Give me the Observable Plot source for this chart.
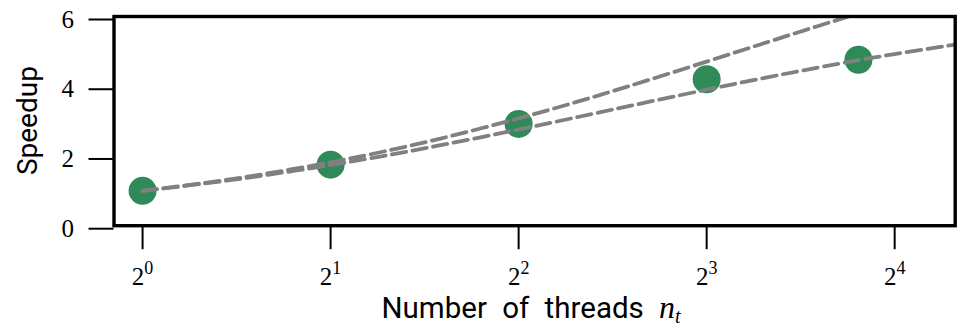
<!DOCTYPE html>
<html><head><meta charset="utf-8">
<script src="https://cdn.jsdelivr.net/npm/d3@7"></script>
<script src="https://cdn.jsdelivr.net/npm/@observablehq/plot@0.6"></script>
<style>html,body{margin:0;padding:0;background:#fff;} #chart svg{display:block;}</style>
</head><body><div id="chart"></div>
<script>
// measured speedup
const threads = [1, 2, 4, 8, 14];
const speedup = [1.0, 1.75, 2.92, 4.2, 4.76];
// dashed fit curves
const fitThreads = [1, 1.25, 1.5, 2, 2.5, 3, 4, 5, 6, 8, 10, 12, 14, 16, 20];
const fitLow  = [1.0, 1.205, 1.395, 1.739, 2.041, 2.308, 2.759, 3.125, 3.429, 3.902, 4.255, 4.528, 4.746, 4.923, 5.195];
const fitHigh = [1.0, 1.22, 1.429, 1.818, 2.174, 2.5, 3.077, 3.571, 4.0, 4.706, 5.263, 5.714, 6.087, 6.4, 6.897];
const xTicks = [1, 2, 4, 8, 16];
const xTickExponents = ["0", "1", "2", "3", "4"];
const yTicks = [0, 2, 4, 6];
const yTickLabels = ["0", "2", "4", "6"];

const points = threads.map((n, i) => ({n, s: speedup[i]}));
const fits = [
  ...fitThreads.map((n, i) => ({n, s: fitHigh[i], fit: "high"})),
  ...fitThreads.map((n, i) => ({n, s: fitLow[i], fit: "low"}))
];

const W = 957, H = 326, mL = 113.5, mR = 2.3, mT = 16, mB = 100.8;
const plot = Plot.plot({
  width: W, height: H,
  marginLeft: mL, marginRight: mR, marginTop: mT, marginBottom: mB,
  style: {background: "#fff", color: "#000", overflow: "visible"},
  x: {type: "log", base: 2, domain: [0.9, 20], label: null},
  y: {domain: [0, 6], label: null},
  marks: [
    Plot.dot(points, {x: "n", y: "s", r: 14, fill: "#2e8b57", stroke: "none"}),
    Plot.line(fits, {x: "n", y: "s", z: "fit", stroke: "#808080", strokeWidth: 3.8,
      strokeDasharray: "14.5,6.5", curve: "catmull-rom", clip: true}),
    Plot.frame({stroke: "#000", strokeWidth: 3.4}),
    Plot.axisX({ticks: xTicks, tickSize: 24, tickPadding: 18, strokeWidth: 2,
      tickFormat: d => xTickExponents[xTicks.indexOf(d)],
      fontFamily: "Liberation Serif", fontSize: 25, fill: "#000", label: null}),
    Plot.axisY({ticks: yTicks, tickSize: 25, tickPadding: 15, strokeWidth: 2,
      tickFormat: d => yTickLabels[yTicks.indexOf(d)],
      fontFamily: "Liberation Serif", fontSize: 25, fill: "#000", dy: 3, label: null})
  ]
});
document.getElementById("chart").appendChild(plot);

const svg = d3.select(plot);
svg.selectAll('g[aria-label="y-axis tick label"] text, g[aria-label="x-axis tick label"] text')
  .style("font-family", "'Liberation Serif', 'DejaVu Serif', serif").style("font-size", "25px");
svg.selectAll('g[aria-label="x-axis tick label"] text').each(function () {
  const t = d3.select(this);
  const e = t.text();
  t.text("");
  t.append("tspan").text("2");
  t.append("tspan").attr("dy", -11).style("font-size", "18px").text(e);
});

svg.append("text")
  .attr("transform", `translate(37,${(mT + H - mB) / 2}) rotate(-90)`)
  .attr("text-anchor", "middle")
  .style("font-family", "Roboto").style("font-size", "28px").attr("fill", "#000")
  .text("Speedup");

const xl = svg.append("text")
  .attr("x", (mL + W - mR) / 2 - 3).attr("y", 317.5)
  .attr("text-anchor", "middle")
  .style("font-family", "Roboto").style("font-size", "29.5px").attr("fill", "#000")
  .style("word-spacing", "8px");
xl.append("tspan").text("Number of threads ");
xl.append("tspan").style("font-family", "'Liberation Serif'").style("font-style", "italic").style("font-size", "32px").text("n");
xl.append("tspan").style("font-family", "'Liberation Serif'").style("font-style", "italic").style("font-size", "20px").attr("dy", 5).text("t");
</script>
</body></html>
